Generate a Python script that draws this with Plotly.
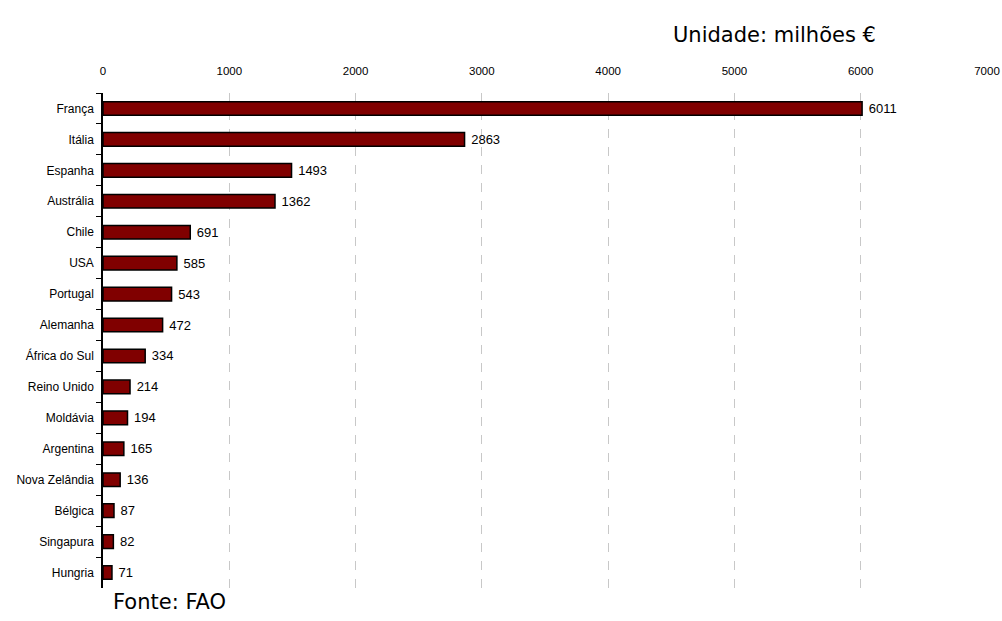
import plotly.graph_objects as go

# Wine export value by country (million €)
countries = ["França", "Itália", "Espanha", "Austrália", "Chile", "USA", "Portugal",
             "Alemanha", "África do Sul", "Reino Unido", "Moldávia", "Argentina",
             "Nova Zelândia", "Bélgica", "Singapura", "Hungria"]
values = [6011, 2863, 1493, 1362, 691, 585, 543, 472, 334, 214, 194, 165, 136, 87, 82, 71]
x_ticks = [0, 1000, 2000, 3000, 4000, 5000, 6000, 7000]

L, R, T, B = 103, 15, 93, 33
W, H = 1002, 621
PW, PH = W - L - R, H - T - B

fig = go.Figure(go.Bar(
    x=values,
    y=countries,
    orientation="h",
    marker=dict(color="#800000", line=dict(color="#000000", width=1.5)),
    text=[" " + str(v) for v in values],
    textposition="outside",
    constraintext="none",
    textfont=dict(family="Liberation Sans, Arial, sans-serif", size=13, color="#000000"),
    cliponaxis=False,
))

fig.update_layout(
    width=W,
    height=H,
    margin=dict(l=L, r=R, t=T, b=B),
    paper_bgcolor="white",
    plot_bgcolor="white",
    bargap=0.56,
    showlegend=False,
    font=dict(family="Liberation Sans, Arial, sans-serif", size=11, color="#000000"),
    xaxis=dict(
        side="top",
        range=[0, 7000],
        tickvals=x_ticks,
        ticktext=[str(t) for t in x_ticks],
        showgrid=True,
        gridcolor="#c8c8c8",
        griddash="dash",
        gridwidth=1,
        zeroline=False,
        showline=False,
        ticks="",
        automargin=False,
        ticklabelstandoff=15,
        tickfont=dict(size=11.5),
    ),
    yaxis=dict(
        autorange="reversed",
        showline=True,
        linecolor="#000000",
        linewidth=1.5,
        ticks="outside",
        ticklen=5,
        tickcolor="#000000",
        tickson="boundaries",
        automargin=False,
        ticklabelstandoff=5,
        tickfont=dict(size=12),
        showgrid=False,
    ),
    annotations=[
        dict(text="Unidade: milhões €", xref="paper", yref="paper",
             x=(878 - L) / PW, y=1 + (T - 35) / PH, xanchor="right", yanchor="middle",
             showarrow=False, font=dict(family="DejaVu Sans, Verdana, sans-serif", size=21)),
        dict(text="Fonte: FAO", xref="paper", yref="paper",
             x=(111 - L) / PW, y=-(602 - (T + PH)) / PH, xanchor="left", yanchor="middle",
             showarrow=False, font=dict(family="DejaVu Sans, Verdana, sans-serif", size=21)),
    ],
)

fig.write_html("out.html")
